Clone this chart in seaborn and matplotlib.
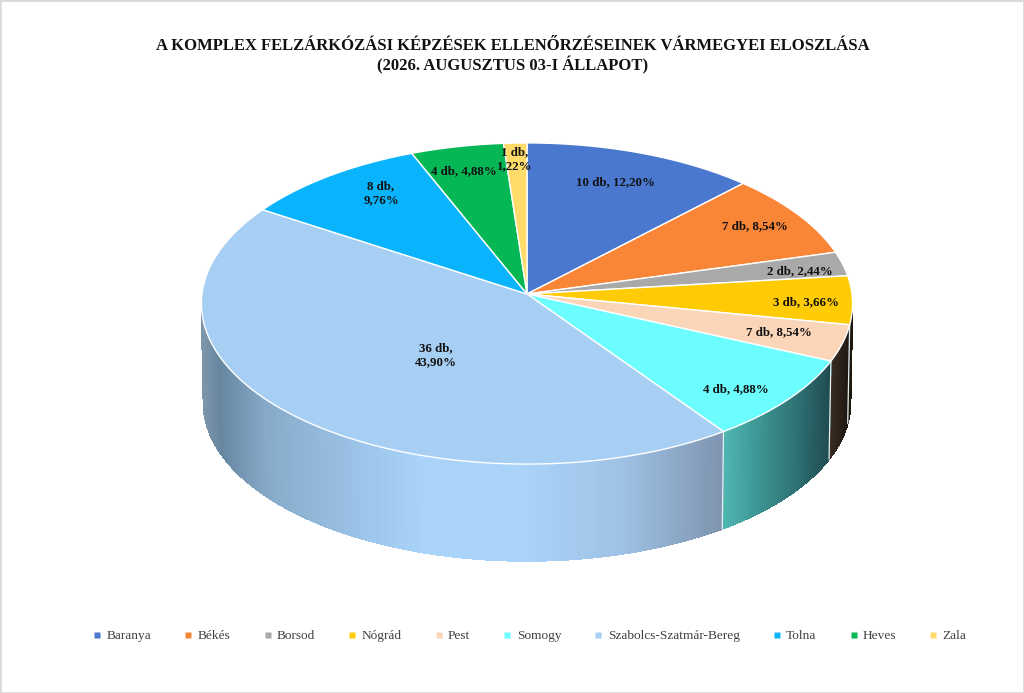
import numpy as np
import matplotlib
matplotlib.use("Agg")
import matplotlib.pyplot as plt
import seaborn as sns
from matplotlib.collections import PolyCollection
from matplotlib.colors import LinearSegmentedColormap
from matplotlib.lines import Line2D
from matplotlib.patches import Polygon, Rectangle

# ---- data ----
categories = ["Baranya", "Békés", "Borsod", "Nógrád", "Pest", "Somogy",
              "Szabolcs-Szatmár-Bereg", "Tolna", "Heves", "Zala"]
drawn_values = [10, 7, 2, 4, 3, 7, 36, 8, 4, 1]
slice_labels = ["10 db, 12,20%", "7 db, 8,54%", "2 db, 2,44%", "3 db, 3,66%",
                "7 db, 8,54%", "4 db, 4,88%", "36 db,\n43,90%", "8 db,\n9,76%",
                "4 db, 4,88%", "1 db,\n1,22%"]
title_lines = ["A KOMPLEX FELZÁRKÓZÁSI KÉPZÉSEK ELLENŐRZÉSEINEK VÁRMEGYEI ELOSZLÁSA",
               "(2026. AUGUSZTUS 03-I ÁLLAPOT)"]

# ---- styles and layout ----
slice_colors = ["#4A78CE", "#F98537", "#A9A9A9", "#FFCB05", "#FBD5B8", "#6CFDFF",
                "#A7CFF4", "#0AB4FC", "#06B755", "#FFDB6A"]
label_xy = [(616, 182), (755, 226), (800, 271), (806, 302), (779, 332),
            (736, 389), (436, 355), (381, 193), (464, 171), (515, 159)]
wall_stops = {
    3: ["#1d170c", "#1d170c"],
    4: ["#3a2d22", "#2a2119", "#1c1611"],
    5: ["#4fb6b2", "#3d9492", "#2f7375", "#1f4a50"],
    6: [(0.0, "#7c95ab"), (0.03, "#66869f"), (0.12, "#87aac9"), (0.3, "#9cc4e8"),
        (0.42, "#a9d3f8"), (0.62, "#a9d3f8"), (0.8, "#9fc3e6"), (1.0, "#7f94b0")],
}
PERSPECTIVE = 0.0592
TOP = dict(x0=527, y0=294, a=325, b=160)
BOTTOM = dict(x0=527, y0=393, a=323, b=158)

sns.set_theme(style="white")
plt.rcParams["font.family"] = ["Liberation Serif", "DejaVu Serif"]
palette = sns.color_palette(slice_colors)

fig, ax = plt.subplots(figsize=(10.24, 6.93), dpi=100)
fig.subplots_adjust(0, 0, 1, 1)
ax.set_xlim(0, 1024)
ax.set_ylim(693, 0)
ax.axis("off")


def project(theta_deg, ring):
    t = np.radians(theta_deg)
    w = 1 + PERSPECTIVE * np.cos(t)
    return np.column_stack([ring["x0"] + ring["a"] * np.sin(t) / w,
                            ring["y0"] - ring["b"] * np.cos(t) / w])


edges = np.concatenate([[0], np.cumsum(drawn_values)]) / np.sum(drawn_values) * 360
VIS_A, VIS_B = 93.4, 266.6

# side walls
for i in wall_stops:
    lo, hi = max(edges[i], VIS_A), min(edges[i + 1], VIS_B)
    th = np.linspace(lo, hi, int((hi - lo) * 2) + 2)
    top, bot = project(th, TOP), project(th, BOTTOM)
    quads = [[top[j], top[j + 1], bot[j + 1], bot[j]] for j in range(len(th) - 1)]
    mid_x = (top[:-1, 0] + top[1:, 0]) / 2
    span = top[:, 0].min(), top[:, 0].max()
    cmap = LinearSegmentedColormap.from_list(f"w{i}", wall_stops[i])
    cols = cmap((mid_x - span[0]) / (span[1] - span[0]))
    ax.add_collection(PolyCollection(quads, facecolors=cols, edgecolors=cols,
                                     linewidths=0.5, antialiaseds=False, zorder=2))

# seams between the walls
for e in edges[4:7]:
    seam = np.vstack([project(np.array([e]), TOP), project(np.array([e]), BOTTOM)])
    ax.plot(seam[:, 0], seam[:, 1], color="#e6f2f2", lw=0.9, zorder=3)

# top faces
for i, color in enumerate(palette):
    th = np.linspace(edges[i], edges[i + 1], max(int((edges[i + 1] - edges[i]) * 2), 2) + 1)
    pts = np.vstack([[[TOP["x0"], TOP["y0"]]], project(th, TOP)])
    ax.add_patch(Polygon(pts, closed=True, facecolor=color, edgecolor="white",
                         lw=1.0, joinstyle="round", zorder=4))

# slice labels
for (x, y), text in zip(label_xy, slice_labels):
    ax.text(x, y, text, ha="center", va="center", fontsize=9.3, fontweight="bold",
            color="#111111", linespacing=1.24, zorder=5)

# title
for text, y in zip(title_lines, (46, 65)):
    ax.text(513, y, text, ha="center", va="center", fontsize=12.0, fontweight="bold",
            color="#111111")

# legend
handles = [Line2D([], [], ls="none", marker="s", ms=4.6, mfc=c, mec="none", label=n)
           for c, n in zip(palette, categories)]
ax.legend(handles=handles, ncol=len(categories), loc="center",
          bbox_to_anchor=(530 / 1024, 1 - 636 / 693), frameon=False, fontsize=9.6,
          labelcolor="#404040", handlelength=0.6, handletextpad=0.4,
          columnspacing=2.48, borderpad=0, borderaxespad=0)

# picture frame
fig.add_artist(Rectangle((0, 0), 1, 1, transform=fig.transFigure, fill=False,
                         edgecolor="#d9d9d9", lw=2))

fig.savefig("out.png", dpi=100)
